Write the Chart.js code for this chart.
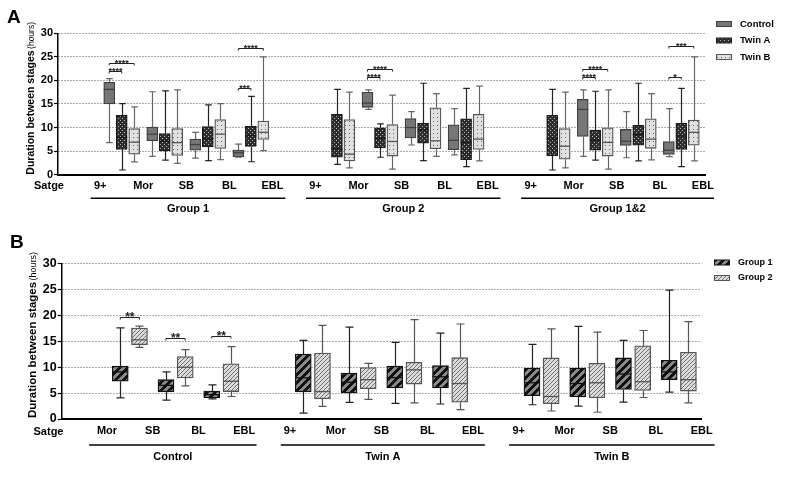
<!DOCTYPE html>
<html>
<head>
  <meta charset="utf-8">
  <title>Duration between stages</title>
  <script src="https://cdn.jsdelivr.net/npm/chart.js"></script>
  <style>
    body { margin: 0; background: #fff; }
    canvas { position: absolute; left: 0; }
  </style>
</head>
<body>
  <canvas id="chartA" width="789" height="230" style="top:0"></canvas>
  <canvas id="chartB" width="789" height="258" style="top:230px"></canvas>
  <script>
    // ---- data (min, q1, median, q3, max) ----
    const stagesA = ['9+', 'Mor', 'SB', 'BL', 'EBL', '9+', 'Mor', 'SB', 'BL', 'EBL', '9+', 'Mor', 'SB', 'BL', 'EBL'];
    const groupsA = ['Group 1', 'Group 2', 'Group 1&2'];
    const seriesA = ['Control', 'Twin A', 'Twin B'];
    // stage-to-stage transitions sit between two stage labels
    const transA = [0.5, 1.5, 2.5, 3.5, 5.5, 6.5, 7.5, 8.5, 10.5, 11.5, 12.5, 13.5];

    const controlA = [
      [6.8, 15.0, 18.1, 19.6, 20.4], [3.9, 7.2, 8.6, 10.1, 17.6], [3.5, 5.2, 6.4, 7.55, 9.0], [3.7, 3.8, 4.65, 5.2, 6.5],
      null, [13.85, 14.3, 15.2, 17.5, 18.0], [6.3, 7.8, 10.0, 11.9, 13.4], [4.2, 5.3, 7.3, 10.6, 14.0],
      null, [3.9, 8.1, 13.85, 16.0, 18.0], [3.6, 6.2, 7.1, 9.6, 13.4], [3.85, 4.3, 5.2, 7.05, 14.0]
    ];
    const twinA_A = [
      [1.0, 5.35, 7.9, 12.6, 15.1], [3.1, 5.05, 7.1, 8.75, 17.8], [3.0, 5.9, 7.6, 10.2, 14.8], [2.75, 6.0, 8.3, 10.25, 16.6],
      [2.2, 3.7, 5.5, 12.8, 18.1], [3.7, 5.7, 7.7, 9.95, 10.8], [3.0, 6.7, 9.5, 10.9, 19.4], [1.7, 3.2, 6.85, 11.85, 18.3],
      [1.0, 4.0, 7.55, 12.6, 18.1], [3.1, 5.2, 7.3, 9.45, 17.7], [2.95, 6.25, 8.5, 10.45, 19.4], [1.7, 5.35, 8.2, 10.9, 18.3]
    ];
    const twinB_A = [
      [2.7, 4.35, 6.9, 9.8, 14.4], [2.4, 4.1, 6.8, 9.8, 18.0], [3.2, 5.55, 8.6, 11.7, 15.1], [5.1, 7.5, 9.0, 11.4, 25.0],
      [1.45, 2.9, 4.35, 11.7, 17.5], [1.2, 3.95, 7.05, 10.65, 16.9], [3.9, 5.5, 7.2, 14.2, 17.2], [2.95, 5.35, 7.55, 12.8, 18.8],
      [1.45, 3.3, 6.05, 9.8, 17.5], [1.2, 3.95, 6.85, 9.95, 18.0], [3.15, 5.6, 7.55, 11.85, 17.2], [2.95, 6.25, 9.0, 11.6, 25.0]
    ];
    // [transition, series a, series b, height, stars]
    const sigA = [
      [0, 0, 1, 22.1, '****'], [0, 0, 2, 23.6, '****'], [3, 0, 1, 18.4, '***'], [3, 0, 2, 26.9, '****'],
      [5, 0, 1, 20.8, '****'], [5, 0, 2, 22.35, '****'],
      [9, 0, 1, 20.8, '****'], [9, 0, 2, 22.35, '****'], [11, 0, 1, 20.7, '*'], [11, 0, 2, 27.2, '***']
    ];

    const stagesB = ['Mor', 'SB', 'BL', 'EBL', '9+', 'Mor', 'SB', 'BL', 'EBL', '9+', 'Mor', 'SB', 'BL', 'EBL'];
    const groupsB = ['Control', 'Twin A', 'Twin B'];
    const seriesB = ['Group 1', 'Group 2'];
    const transB = [0.5, 1.5, 2.5, 4.5, 5.5, 6.5, 7.5, 9.5, 10.5, 11.5, 12.5];
    const group1B = [
      [4.1, 7.3, 9.1, 10.2, 17.6], [3.65, 5.25, 6.5, 7.6, 9.1], [3.9, 4.05, 4.7, 5.4, 6.6],
      [1.15, 5.25, 7.95, 12.55, 15.2], [3.2, 5.05, 7.1, 8.85, 17.75], [3.0, 6.0, 8.0, 10.2, 14.8], [2.9, 6.0, 8.15, 10.3, 16.6],
      [2.75, 4.5, 7.0, 9.85, 14.4], [2.5, 4.25, 6.85, 9.85, 17.9], [3.25, 5.7, 8.7, 11.8, 15.2], [5.2, 7.6, 9.1, 11.35, 24.9]
    ];
    const group2B = [
      [13.85, 14.35, 15.3, 17.55, 17.95], [6.4, 7.95, 10.0, 12.05, 13.4], [4.35, 5.3, 7.3, 10.65, 14.0],
      [2.45, 3.9, 5.3, 12.75, 18.1], [3.8, 5.85, 7.6, 9.95, 10.75], [3.1, 6.75, 9.5, 10.95, 19.2], [1.8, 3.25, 6.85, 11.85, 18.35],
      [1.55, 2.95, 4.35, 11.8, 17.4], [1.3, 4.1, 7.0, 10.75, 16.8], [4.15, 5.5, 7.2, 14.15, 17.1], [3.1, 5.4, 7.6, 12.9, 18.8]
    ];
    const sigB = [[0, 0, 1, 19.8, '**'], [1, 0, 1, 15.6, '**'], [2, 0, 1, 16.0, '**']];

    // ---- styling ----
    const FONT = '"Liberation Sans", Arial, Helvetica, sans-serif';
    Chart.defaults.font.family = FONT;
    Chart.defaults.color = '#000';
    Chart.defaults.animation = false;

    function tile(size, draw) {
      const c = document.createElement('canvas');
      c.width = c.height = size;
      const g = c.getContext('2d');
      draw(g);
      return g.createPattern(c, 'repeat');
    }
    const fills = {
      control: '#777',
      twinA: tile(4, g => {
        g.fillStyle = '#2e2e2e'; g.fillRect(0, 0, 4, 4);
        g.fillStyle = '#b4b4b4'; g.fillRect(0, 0, 1, 1); g.fillRect(2, 2, 1, 1);
      }),
      twinB: tile(4, g => {
        g.fillStyle = '#e0e0e0'; g.fillRect(0, 0, 4, 4);
        g.fillStyle = '#666'; g.fillRect(1, 1, 1, 1);
      }),
      g1: tile(8, g => {
        g.fillStyle = '#8a8a8a'; g.fillRect(0, 0, 8, 8);
        g.fillStyle = '#111';
        for (let i = 0; i < 8; i++) for (let k = 0; k < 4; k++) g.fillRect(i, (7 - i + k) % 8, 1, 1);
      }),
      g2: tile(4, g => {
        g.fillStyle = '#dcdcdc'; g.fillRect(0, 0, 4, 4);
        g.fillStyle = '#707070';
        for (let i = 0; i < 4; i++) g.fillRect(i, 3 - i, 1, 1);
      })
    };

    function boxSet(label, stats, pos, off, fill, border, whisker, width) {
      const data = [];
      stats.forEach((s, i) => { if (s) data.push({ x: pos[i] + off, y: [s[1], s[3]], stat: s }); });
      return {
        label, data, backgroundColor: fill, borderColor: border, borderWidth: 1.3,
        borderSkipped: false, barThickness: width, grouped: false, whisker
      };
    }

    function panelPlugin(cfg) {
      return {
        id: 'panel',
        afterDatasetsDraw(chart) {
          const ctx = chart.ctx, x = chart.scales.x, y = chart.scales.y;
          chart.data.datasets.forEach((ds, di) => {
            chart.getDatasetMeta(di).data.forEach((bar, i) => {
              const s = ds.data[i].stat;
              const px = Math.round(bar.x) + 0.5;
              ctx.save();
              ctx.lineWidth = 1.2;
              ctx.strokeStyle = ds.whisker;
              ctx.beginPath();
              ctx.moveTo(px, y.getPixelForValue(s[3])); ctx.lineTo(px, y.getPixelForValue(s[4]));
              ctx.moveTo(px, y.getPixelForValue(s[1])); ctx.lineTo(px, y.getPixelForValue(s[0]));
              [s[0], s[4]].forEach(v => {
                const py = y.getPixelForValue(v);
                ctx.moveTo(px - cfg.cap, py); ctx.lineTo(px + cfg.cap, py);
              });
              ctx.stroke();
              ctx.strokeStyle = ds.borderColor;
              ctx.lineWidth = 1.3;
              const pm = y.getPixelForValue(s[2]);
              ctx.beginPath();
              ctx.moveTo(bar.x - bar.width / 2, pm); ctx.lineTo(bar.x + bar.width / 2, pm);
              ctx.stroke();
              ctx.restore();
            });
          });
          // significance brackets
          ctx.save();
          ctx.strokeStyle = '#222';
          ctx.fillStyle = '#222';
          ctx.lineWidth = 1;
          ctx.font = 'bold ' + cfg.starSize + 'px ' + FONT;
          ctx.textAlign = 'center';
          ctx.textBaseline = 'alphabetic';
          cfg.sig.forEach(([t, a, b, v, txt]) => {
            const xa = x.getPixelForValue(cfg.pos[t] + cfg.off[a]);
            const xb = x.getPixelForValue(cfg.pos[t] + cfg.off[b]);
            const py = Math.round(y.getPixelForValue(v)) + 0.5;
            ctx.beginPath();
            ctx.moveTo(xa, py + 2); ctx.lineTo(xa, py); ctx.lineTo(xb, py); ctx.lineTo(xb, py + 2);
            ctx.stroke();
            ctx.fillText(txt, (xa + xb) / 2, py + cfg.starDy);
          });
          ctx.restore();
        },
        afterDraw(chart) {
          const ctx = chart.ctx, x = chart.scales.x, area = chart.chartArea;
          ctx.save();
          ctx.fillStyle = '#000';
          // panel letter
          ctx.font = 'bold 19px ' + FONT;
          ctx.textAlign = 'left';
          ctx.textBaseline = 'alphabetic';
          ctx.fillText(cfg.letter, cfg.letterX, cfg.letterY);
          // y axis title
          ctx.save();
          ctx.translate(cfg.titleX, area.bottom + cfg.titleStart);
          ctx.rotate(-Math.PI / 2);
          ctx.font = 'bold ' + cfg.titleSize + 'px ' + FONT;
          const main = 'Duration between stages';
          ctx.fillText(main, 0, 0);
          const w = ctx.measureText(main).width;
          ctx.font = cfg.unitSize + 'px ' + FONT;
          ctx.fillText('(hours)', w + 1.5, 0);
          ctx.restore();
          // stage row caption
          ctx.font = 'bold 11px ' + FONT;
          ctx.textAlign = 'center';
          ctx.textBaseline = 'middle';
          ctx.fillText('Satge', cfg.satgeX, cfg.stageY);
          // group lines and labels
          ctx.strokeStyle = '#000';
          ctx.lineWidth = 1.5;
          cfg.groups.forEach((name, g) => {
            const x1 = x.getPixelForValue(cfg.groupSpan[g][0]);
            const x2 = x.getPixelForValue(cfg.groupSpan[g][1]);
            ctx.beginPath();
            ctx.moveTo(x1, cfg.lineY); ctx.lineTo(x2, cfg.lineY);
            ctx.stroke();
            ctx.fillText(name, (x1 + x2) / 2, cfg.groupY);
          });
          // legend
          ctx.textAlign = 'left';
          ctx.font = 'bold ' + cfg.legendSize + 'px ' + FONT;
          cfg.legend.forEach((item, i) => {
            const ly = cfg.legendY + i * cfg.legendDy;
            ctx.fillStyle = item.fill;
            ctx.fillRect(cfg.legendX, ly - 2.5, 16, 5);
            ctx.strokeStyle = item.border;
            ctx.lineWidth = 1;
            ctx.strokeRect(cfg.legendX + 0.5, ly - 2.5, 15, 5);
            ctx.fillStyle = '#000';
            ctx.fillText(item.label, cfg.legendX + 24, ly);
          });
          ctx.restore();
        }
      };
    }

    function axes(stages, xmin, xmax, xHeight, tickSize) {
      return {
        x: {
          type: 'linear', min: xmin, max: xmax, offset: false,
          afterBuildTicks: s => { s.ticks = stages.map((_, i) => ({ value: i })); },
          afterFit: s => { s.height = xHeight; },
          grid: { display: false, drawTicks: false, offset: false },
          border: { color: '#000', width: 2 },
          ticks: {
            callback: v => stages[v], autoSkip: false, maxRotation: 0, padding: 5,
            font: { size: 11, weight: 'bold' }, color: '#000'
          }
        },
        y: {
          min: 0, max: 30,
          afterFit: s => { s.width = 28; },
          ticks: { stepSize: 5, padding: 1, font: { size: tickSize, weight: 'bold' }, color: '#000' },
          grid: { color: '#5a5a5a', lineWidth: 1, tickLength: 4, tickColor: '#000', tickWidth: 1.2 },
          border: { color: '#000', width: 1.5, dash: [1, 2] }
        }
      };
    }

    const offA = [-0.29, 0, 0.29];
    new Chart(document.getElementById('chartA'), {
      type: 'bar',
      data: {
        datasets: [
          boxSet(seriesA[0], controlA, transA, offA[0], fills.control, '#404040', '#666', 11),
          boxSet(seriesA[1], twinA_A, transA, offA[1], fills.twinA, '#1a1a1a', '#222', 11),
          boxSet(seriesA[2], twinB_A, transA, offA[2], fills.twinB, '#555', '#666', 11)
        ]
      },
      options: {
        responsive: false,
        events: [],
        layout: { padding: { left: 30, right: 84, top: 33.3, bottom: 0 } },
        plugins: { legend: { display: false }, tooltip: { enabled: false } },
        scales: axes(stagesA, -0.98, 14.05, 55.3, 11)
      },
      plugins: [panelPlugin({
        letter: 'A', letterX: 7, letterY: 23,
        titleX: 34, titleStart: 0, titleSize: 10.5, unitSize: 8.5,
        satgeX: 49, stageY: 185.8, lineY: 198.3, groupY: 209.3,
        groups: groupsA, groupSpan: [[-0.22, 4.3], [4.78, 9.3], [9.78, 14.26]],
        pos: transA, off: offA, sig: sigA, cap: 3.3, starSize: 9, starDy: 2.5,
        legendX: 716, legendY: 24, legendDy: 16.5, legendSize: 9.5,
        legend: [
          { label: seriesA[0], fill: fills.control, border: '#404040' },
          { label: seriesA[1], fill: fills.twinA, border: '#1a1a1a' },
          { label: seriesA[2], fill: fills.twinB, border: '#555' }
        ]
      })]
    });

    const offB = [-0.21, 0.21];
    new Chart(document.getElementById('chartB'), {
      type: 'bar',
      data: {
        datasets: [
          boxSet(seriesB[0], group1B, transB, offB[0], fills.g1, '#111', '#222', 16),
          boxSet(seriesB[1], group2B, transB, offB[1], fills.g2, '#555', '#555', 16)
        ]
      },
      options: {
        responsive: false,
        events: [],
        layout: { padding: { left: 33.7, right: 87.3, top: 33.7, bottom: 0 } },
        plugins: { legend: { display: false }, tooltip: { enabled: false } },
        scales: axes(stagesB, -0.99, 13, 69, 12.5)
      },
      plugins: [panelPlugin({
        letter: 'B', letterX: 10, letterY: 18,
        titleX: 36, titleStart: -1, titleSize: 11.5, unitSize: 9,
        satgeX: 48.5, stageY: 201.8, lineY: 215, groupY: 226.7,
        groups: groupsB, groupSpan: [[-0.39, 3.27], [3.8, 8.26], [8.79, 13.28]],
        pos: transB, off: offB, sig: sigB, cap: 4, starSize: 12, starDy: 3,
        legendX: 714, legendY: 32.5, legendDy: 15.5, legendSize: 9,
        legend: [
          { label: seriesB[0], fill: fills.g1, border: '#111' },
          { label: seriesB[1], fill: fills.g2, border: '#555' }
        ]
      })]
    });
  </script>
</body>
</html>
